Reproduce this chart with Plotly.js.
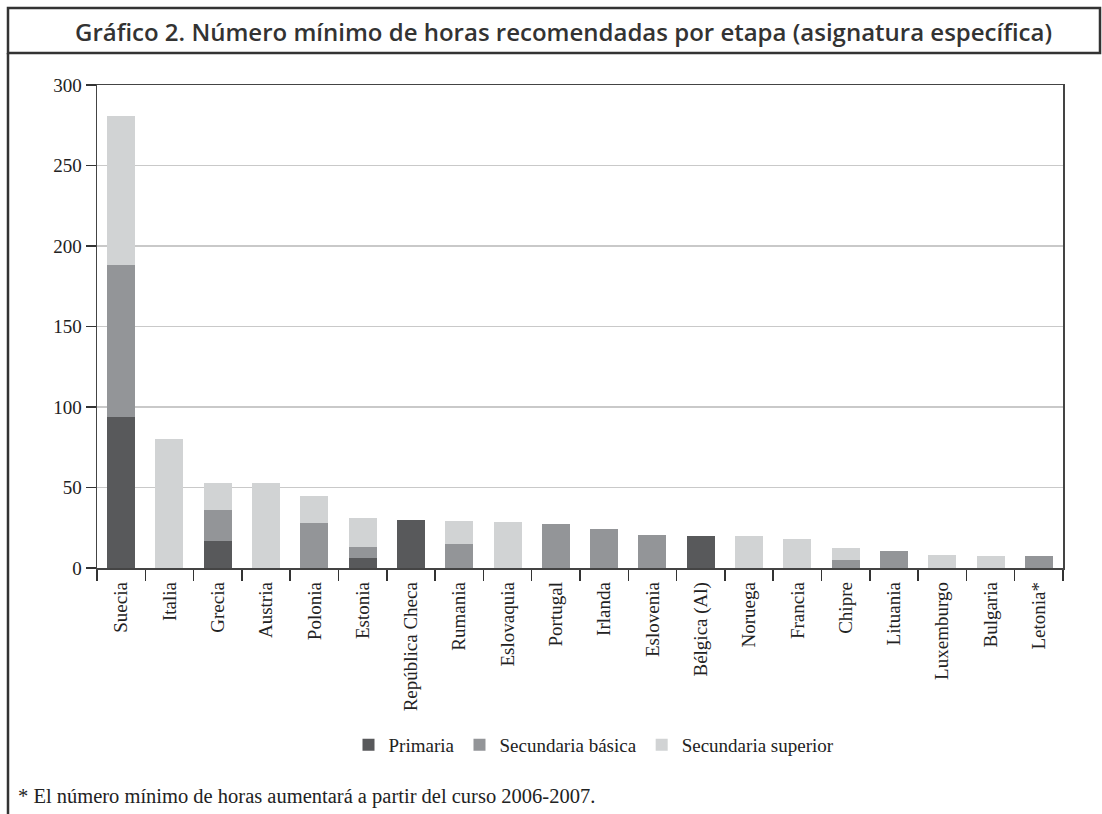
<!DOCTYPE html>
<html>
<head>
<meta charset="utf-8">
<script src="https://cdn.plot.ly/plotly-3.0.1.min.js"></script>
<style>html,body{margin:0;padding:0;background:#fff;}#chart{width:1102px;height:814px;}</style>
</head>
<body>
<div id="chart"></div>
<script>
const countries = ['Suecia','Italia','Grecia','Austria','Polonia','Estonia','República Checa','Rumania','Eslovaquia','Portugal','Irlanda','Eslovenia','Bélgica (Al)','Noruega','Francia','Chipre','Lituania','Luxemburgo','Bulgaria','Letonia*'];
const primaria = [94,null,17,null,null,6,30,null,null,null,null,null,20,null,null,null,null,null,null,null];
const secBasica = [94,null,19,null,28,7,null,15,null,27.5,24.5,20.5,null,null,null,5,10.7,null,null,7.6];
const secSuperior = [93,80,17,53,17,18,null,14,28.7,null,null,null,null,20,18.2,7.5,null,8.2,7.6,null];
const seriesNames = ['Primaria','Secundaria básica','Secundaria superior'];
const yTicks = [0,50,100,150,200,250,300];
const titleText = 'Gráfico 2. Número mínimo de horas recomendadas por etapa (asignatura específica)';
const noteText = '* El número mínimo de horas aumentará a partir del curso 2006-2007.';

// layout geometry (pixels)
const W = 1102, H = 814;
const L = 97, R = 1063, T = 85, B = 568;
const px = x => (x - L) / (R - L);
const py = y => (B - y) / (B - T);

const serif = 'Liberation Serif, serif';
const colors = ['#58595b', '#939598', '#d1d3d4'];
const vals = [primaria, secBasica, secSuperior];

const traces = vals.map((v, i) => ({
  type: 'bar', x: countries, y: v, name: seriesNames[i],
  marker: {color: colors[i], line: {width: 0}}, hoverinfo: 'x+y+name'
}));

const layout = {
  width: W, height: H,
  margin: {l: L, r: W - R, t: T, b: H - B, pad: 0},
  paper_bgcolor: '#fff', plot_bgcolor: '#fff',
  barmode: 'stack', bargap: 0.42,
  showlegend: true,
  legend: {orientation: 'h', x: px(594), xanchor: 'center', y: py(745), yanchor: 'middle',
    font: {family: serif, size: 19, color: '#222'}, traceorder: 'normal', itemwidth: 30},
  xaxis: {
    type: 'category', tickangle: -90, tickson: 'boundaries', ticks: 'outside', ticklen: 11,
    tickcolor: '#333', tickwidth: 1.5, showline: true, linecolor: '#444', linewidth: 1.5, mirror: true,
    tickfont: {family: serif, size: 19, color: '#222'}, showgrid: false, automargin: false,
    ticklabelstandoff: 5
  },
  yaxis: {
    range: [0, 300], tickvals: yTicks, ticks: 'outside', ticklen: 10, tickcolor: '#333', tickwidth: 1.5,
    showline: true, linecolor: '#444', linewidth: 1.5, mirror: true,
    gridcolor: '#c9c9c9', gridwidth: 1.5, zeroline: false,
    tickfont: {family: serif, size: 19, color: '#222'}, automargin: false
  },
  shapes: [
    {type: 'rect', xref: 'paper', yref: 'paper', x0: px(8), x1: px(1100), y0: py(8), y1: py(53),
      line: {color: '#333', width: 2.5}, fillcolor: 'rgba(0,0,0,0)'},
    {type: 'line', xref: 'paper', yref: 'paper', x0: px(8), x1: px(8), y0: py(53), y1: py(814),
      line: {color: '#333', width: 2.5}}
  ],
  annotations: [
    {text: titleText, xref: 'paper', yref: 'paper', x: px(563), y: py(31), xanchor: 'center', yanchor: 'middle',
      showarrow: false, font: {family: 'Open Sans, sans-serif', size: 24, weight: 600, color: '#333'}},
    {text: noteText, xref: 'paper', yref: 'paper', x: px(16), y: py(796), xanchor: 'left', yanchor: 'middle',
      showarrow: false, font: {family: serif, size: 20.5, color: '#222'}}
  ]
};

Plotly.newPlot('chart', traces, layout, {displayModeBar: false, staticPlot: true});
</script>
</body>
</html>
